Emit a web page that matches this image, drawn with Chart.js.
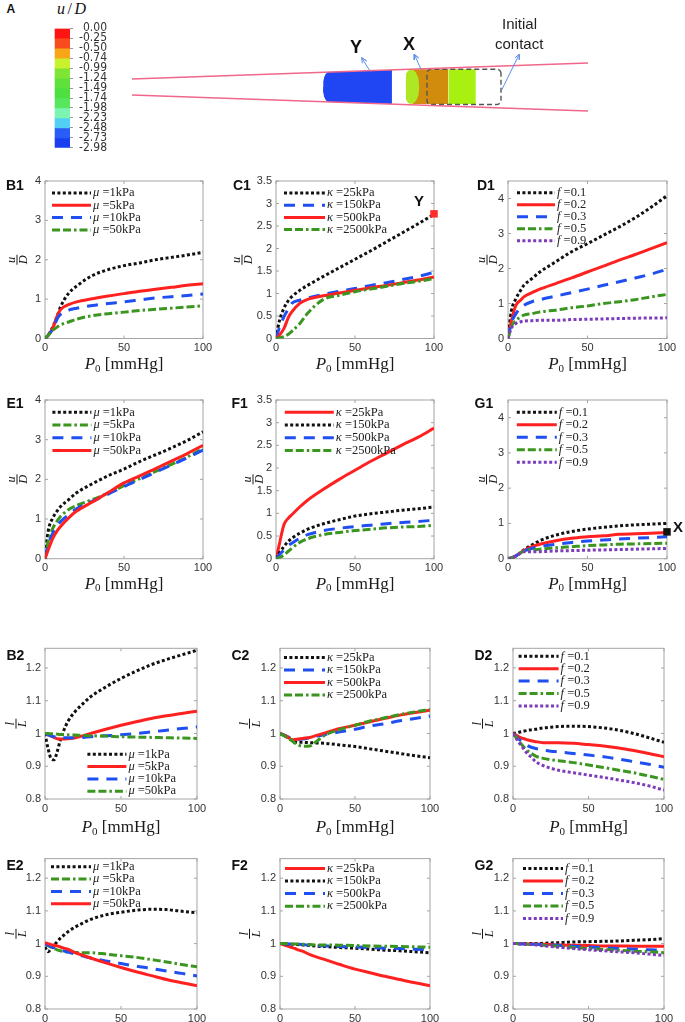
<!DOCTYPE html>
<html>
<head>
<meta charset="utf-8">
<title>u/D and l/L versus P0</title>
<script src="https://cdn.jsdelivr.net/npm/chart.js@4.4.1/dist/chart.umd.min.js"></script>
<style>
html,body{margin:0;padding:0;background:#fff;}
#page{position:relative;width:685px;height:1022px;overflow:hidden;background:#fff;}
#page canvas{position:absolute;}
.t{position:absolute;white-space:nowrap;line-height:1;color:#111;font-family:"Liberation Sans",Arial,sans-serif;z-index:5;}
</style>
</head>
<body>
<div id="page"></div>
<script>
// ================= DATA =================
// pressure grids
const P_A = [0,2,5,8,10,15,20,30,40,50,60,70,80,90,100];
const P_B = [0,2,4,6,8,10,12,15,20,25,30,40,50,60,70,80,90,100];

// legend texts
const MU = ['=1kPa','=5kPa','=10kPa','=50kPa'];
const KA = ['=25kPa','=150kPa','=500kPa','=2500kPa'];
const FF = ['=0.1','=0.2','=0.3','=0.5','=0.9'];

// B1  u/D  (mu)
const b1_mu1  = [0,0.08,0.30,0.60,0.82,1.15,1.33,1.60,1.75,1.85,1.92,2.00,2.06,2.12,2.19];
const b1_mu5  = [0,0.08,0.27,0.60,0.74,0.86,0.93,1.01,1.08,1.14,1.20,1.25,1.30,1.35,1.39];
const b1_mu10 = [0,0.08,0.25,0.52,0.62,0.72,0.77,0.84,0.89,0.93,0.98,1.03,1.06,1.09,1.13];
const b1_mu50 = [0,0.08,0.21,0.30,0.35,0.42,0.49,0.58,0.63,0.67,0.71,0.74,0.77,0.80,0.83];
// C1  u/D  (kappa)
const c1_k25   = [0,0.37,0.67,0.85,0.93,1.07,1.18,1.38,1.57,1.76,1.95,2.15,2.35,2.55,2.76];
const c1_k150  = [0,0.22,0.48,0.67,0.78,0.85,0.90,0.98,1.05,1.11,1.18,1.24,1.31,1.38,1.47];
const c1_k500  = [0,0.07,0.22,0.48,0.59,0.78,0.87,0.95,1.01,1.07,1.13,1.18,1.24,1.30,1.37];
const c1_k2500 = [0,0.01,0.04,0.10,0.16,0.33,0.56,0.87,0.96,1.04,1.10,1.16,1.22,1.27,1.33];
// D1  u/D  (f)
const d1_f01 = [0,0.76,1.14,1.38,1.52,1.71,1.90,2.19,2.48,2.71,2.95,3.19,3.45,3.75,4.08];
const d1_f02 = [0,0.48,0.95,1.10,1.19,1.31,1.41,1.57,1.73,1.90,2.07,2.24,2.40,2.57,2.74];
const d1_f03 = [0,0.43,0.71,0.88,0.95,1.05,1.11,1.21,1.31,1.41,1.52,1.62,1.73,1.84,1.98];
const d1_f05 = [0,0.33,0.52,0.62,0.67,0.71,0.76,0.81,0.88,0.93,1.00,1.05,1.11,1.19,1.26];
const d1_f09 = [0,0.29,0.43,0.48,0.50,0.51,0.52,0.52,0.54,0.55,0.56,0.57,0.58,0.585,0.59];
// E1
const e1_mu1  = [0,0.69,1.03,1.22,1.32,1.49,1.66,1.89,2.09,2.26,2.45,2.62,2.79,2.98,3.20];
const e1_mu5  = [0,0.43,0.77,0.97,1.07,1.24,1.34,1.49,1.65,1.84,2.02,2.20,2.38,2.56,2.78];
const e1_mu10 = [0,0.35,0.65,0.85,0.94,1.11,1.26,1.45,1.63,1.82,2.00,2.18,2.36,2.54,2.74];
const e1_mu50 = [0,0.22,0.52,0.72,0.82,1.03,1.20,1.43,1.67,1.91,2.09,2.27,2.46,2.65,2.86];
// F1
const f1_k25   = [0,0.30,0.75,0.90,0.97,1.14,1.29,1.53,1.75,1.95,2.15,2.33,2.51,2.68,2.88];
const f1_k150  = [0,0.12,0.27,0.39,0.45,0.56,0.65,0.77,0.86,0.94,0.99,1.03,1.07,1.10,1.14];
const f1_k500  = [0,0.08,0.19,0.29,0.34,0.45,0.53,0.62,0.67,0.71,0.74,0.77,0.80,0.82,0.85];
const f1_k2500 = [0,0.02,0.08,0.17,0.23,0.36,0.44,0.53,0.58,0.62,0.65,0.68,0.70,0.71,0.74];
// G1
const g1_f01 = [0,0.02,0.08,0.18,0.25,0.39,0.51,0.67,0.77,0.84,0.89,0.93,0.96,0.98,1.00];
const g1_f02 = [0,0.02,0.08,0.17,0.23,0.34,0.41,0.51,0.58,0.62,0.65,0.69,0.71,0.72,0.74];
const g1_f03 = [0,0.02,0.08,0.17,0.22,0.29,0.34,0.41,0.46,0.50,0.53,0.56,0.58,0.60,0.62];
const g1_f05 = [0,0.02,0.08,0.17,0.22,0.25,0.27,0.31,0.34,0.37,0.39,0.41,0.42,0.43,0.44];
const g1_f09 = [0,0.02,0.08,0.16,0.20,0.20,0.20,0.22,0.23,0.24,0.25,0.26,0.27,0.28,0.29];

// B2  l/L
const b2_mu1  = [1.000,0.954,0.924,0.920,0.944,0.978,1.005,1.036,1.068,1.091,1.112,1.142,1.168,1.190,1.210,1.226,1.240,1.254];
const b2_mu5  = [1.000,0.996,0.992,0.988,0.984,0.983,0.983,0.984,0.987,0.993,1.000,1.013,1.025,1.036,1.046,1.054,1.061,1.068];
const b2_mu10 = [1.000,0.996,0.992,0.990,0.988,0.987,0.987,0.987,0.987,0.988,0.990,0.993,0.996,1.000,1.005,1.010,1.015,1.020];
const b2_mu50 = [1.000,1.000,0.999,0.999,0.998,0.997,0.997,0.996,0.995,0.994,0.993,0.992,0.990,0.989,0.988,0.987,0.986,0.985];
// C2
const c2_k25   = [1.000,0.995,0.990,0.985,0.980,0.975,0.973,0.973,0.972,0.971,0.970,0.965,0.960,0.953,0.946,0.939,0.932,0.926];
const c2_k150  = [1.000,0.997,0.993,0.988,0.984,0.982,0.982,0.983,0.987,0.992,0.997,1.005,1.013,1.023,1.030,1.039,1.046,1.053];
const c2_k500  = [1.000,0.996,0.992,0.986,0.980,0.982,0.983,0.985,0.988,0.995,1.002,1.015,1.025,1.036,1.046,1.056,1.064,1.071];
const c2_k2500 = [1.000,0.995,0.990,0.984,0.978,0.970,0.965,0.961,0.962,0.978,0.995,1.012,1.025,1.038,1.048,1.058,1.066,1.073];
// D2
const d2_f01 = [1.000,1.002,1.004,1.006,1.008,1.010,1.011,1.013,1.017,1.019,1.021,1.022,1.021,1.017,1.010,1.000,0.987,0.973];
const d2_f02 = [1.000,0.995,0.990,0.986,0.983,0.980,0.978,0.975,0.972,0.972,0.972,0.970,0.966,0.962,0.956,0.948,0.939,0.929];
const d2_f03 = [1.000,0.990,0.982,0.975,0.968,0.962,0.958,0.954,0.949,0.946,0.944,0.939,0.934,0.929,0.922,0.914,0.906,0.897];
const d2_f05 = [1.000,0.988,0.976,0.965,0.955,0.946,0.940,0.931,0.924,0.920,0.917,0.911,0.904,0.896,0.888,0.880,0.870,0.860];
const d2_f09 = [1.000,0.986,0.972,0.960,0.947,0.936,0.928,0.914,0.902,0.894,0.888,0.880,0.873,0.866,0.858,0.850,0.840,0.827];
// E2
const e2_mu1  = [0.990,0.975,0.985,0.995,1.006,1.016,1.024,1.036,1.051,1.063,1.074,1.088,1.096,1.102,1.105,1.104,1.099,1.094];
const e2_mu5  = [1.000,0.994,0.989,0.985,0.981,0.978,0.976,0.974,0.973,0.972,0.972,0.968,0.963,0.958,0.951,0.944,0.936,0.929];
const e2_mu10 = [1.000,0.995,0.991,0.987,0.984,0.980,0.978,0.974,0.968,0.962,0.956,0.947,0.939,0.931,0.924,0.916,0.909,0.901];
const e2_mu50 = [1.003,1.000,0.997,0.995,0.993,0.990,0.987,0.983,0.972,0.964,0.956,0.941,0.927,0.914,0.902,0.890,0.880,0.871];
// F2
const f2_k25   = [1.000,0.997,0.994,0.991,0.988,0.985,0.981,0.977,0.966,0.958,0.951,0.936,0.922,0.911,0.900,0.890,0.880,0.871];
const f2_k150  = [1.000,1.000,0.999,0.999,0.998,0.998,0.997,0.996,0.994,0.992,0.991,0.988,0.986,0.983,0.980,0.978,0.975,0.972];
const f2_k500  = [1.000,1.000,0.999,0.999,0.999,0.998,0.998,0.997,0.995,0.994,0.993,0.991,0.990,0.988,0.986,0.985,0.983,0.982];
const f2_k2500 = [1.000,1.000,1.000,0.999,0.999,0.999,0.999,0.998,0.997,0.996,0.996,0.995,0.994,0.993,0.992,0.991,0.990,0.989];
// G2
const g2_f01 = [1.000,1.000,1.000,1.000,1.000,1.000,1.000,1.000,1.001,1.002,1.003,1.005,1.006,1.007,1.008,1.010,1.012,1.015];
const g2_f02 = [1.000,1.000,1.000,1.000,0.999,0.999,0.999,0.999,0.998,0.997,0.996,0.995,0.994,0.993,0.993,0.992,0.992,0.992];
const g2_f03 = [1.000,1.000,1.000,0.999,0.999,0.999,0.998,0.998,0.997,0.996,0.995,0.992,0.990,0.987,0.985,0.983,0.981,0.980];
const g2_f05 = [1.000,1.000,0.999,0.999,0.998,0.998,0.997,0.997,0.995,0.993,0.992,0.988,0.985,0.982,0.980,0.977,0.975,0.972];
const g2_f09 = [1.000,1.000,0.999,0.998,0.998,0.997,0.997,0.996,0.993,0.991,0.989,0.985,0.981,0.978,0.975,0.972,0.968,0.964];

// highlighted points Y (C1) and X (G1)
const markC1_x = [100], markC1_y = [2.77];
const markG1_x = [100], markG1_y = [0.76];

// colour bar (panel A)
const cbLabels = ['0.00','-0.25','-0.50','-0.74','-0.99','-1.24','-1.49','-1.74','-1.98','-2.23','-2.48','-2.73','-2.98'];
const cbColors = ['#ff1414','#f94c1e','#f8a517','#c9f22e','#7fe535','#60e03a','#4de040','#58e65e','#7cf5b2','#52d0f4','#2a5cf8','#1a3ef0'];

// schematic (axial position 0..100 along vessel, radial position)
const wallX = [0, 100];
const wallUpper = [1.754, 5.263];
const wallLower = [-1.754, -5.263];
const blockY_x   = [41.9, 41.95, 42.15, 42.5, 43.0, 57.0];
const blockY_top = [0, 1.2, 2.2, 2.9, 3.3, 3.73];
const blockY_bot = [0, -1.2, -2.2, -2.9, -3.3, -3.73];
const orange_x   = [61.5, 69.4];
const orange_top = [3.88, 3.88];
const orange_bot = [-3.73, -3.73];
const lime_x     = [69.4, 75.4];
const lime_top   = [3.88, 3.88];
const lime_bot   = [-3.73, -3.73];
const lens_x     = [60.0, 60.1, 60.5, 61.0, 61.6, 62.3, 62.8, 63.0];
const lens_top   = [0, 2.9, 3.55, 3.8, 3.85, 3.1, 2.0, 0];
const lens_bot   = [0, -2.8, -3.45, -3.65, -3.7, -3.0, -1.9, 0];
const contactBox = [64.69, -3.84, 80.92, 3.9, 0.9];   // x0, y0, x1, y1, corner radius
const arrowsA = [[52.04,3.73,50.37,6.43],[63.38,3.88,61.91,7.17],[81.07,-0.66,84.93,7.17]];

// ================= STYLE / LAYOUT =================
const STY = {
  dot:     {dash:[3,2.4], w:3},
  solid:   {dash:[], w:3},
  dash:    {dash:[11,8], w:3},
  dashdot: {dash:[8,3,8,3,2.5,3], w:3}
};
const COL = {black:'#111111', red:'#ff2020', blue:'#1f4ff0', green:'#3a961f', purple:'#7c3cbc'};
const ROW = [
  {t:181,   b:338.5, ct:168, ch:212, xt:26.5},
  {t:400,   b:558.7, ct:388, ch:212, xt:25.5},
  {t:648.3, b:799,   ct:636, ch:210, xt:29},
  {t:857.7, b:1009,  ct:848, ch:200, xt:27}
];
const COLS_TOP = [[45,203],[276,434],[508,667]];
const COLS_BOT = [[45,197],[280,430],[513,664]];
const CAN = [[0,228],[228,228],[460,225]];

const PANELS = [
 {id:'B1',row:0,col:0,y:[0,4,1],frac:['u','D'],fdx:-27.5,leg:{dx:7,dy:12,gap:12.3,len:39},x:P_A,
  s:[['μ',MU[0],b1_mu1,'dot','black'],['μ',MU[1],b1_mu5,'solid','red'],['μ',MU[2],b1_mu10,'dash','blue'],['μ',MU[3],b1_mu50,'dashdot','green']]},
 {id:'C1',row:0,col:1,y:[0,3.5,0.5],frac:['u','D'],fdx:-33.5,leg:{dx:8,dy:12,gap:12.2,len:41},x:P_A,
  s:[['κ',KA[0],c1_k25,'dot','black'],['κ',KA[1],c1_k150,'dash','blue'],['κ',KA[2],c1_k500,'solid','red'],['κ',KA[3],c1_k2500,'dashdot','green']],
  mark:{x:markC1_x,y:markC1_y,color:'#ff2a2a'}},
 {id:'D1',row:0,col:2,y:[0,4.5,1],frac:['u','D'],fdx:-20.5,leg:{dx:9,dy:11.7,gap:12,len:38},x:P_A,
  s:[['f',FF[0],d1_f01,'dot','black'],['f',FF[1],d1_f02,'solid','red'],['f',FF[2],d1_f03,'dash','blue'],['f',FF[3],d1_f05,'dashdot','green'],['f',FF[4],d1_f09,'dot','purple']]},
 {id:'E1',row:1,col:0,y:[0,4,1],frac:['u','D'],fdx:-27.5,leg:{dx:7.4,dy:12.3,gap:12.7,len:39},x:P_A,
  s:[['μ',MU[0],e1_mu1,'dot','black'],['μ',MU[1],e1_mu5,'dashdot','green'],['μ',MU[2],e1_mu10,'dash','blue'],['μ',MU[3],e1_mu50,'solid','red']]},
 {id:'F1',row:1,col:1,y:[0,3.5,0.5],frac:['u','D'],fdx:-22.5,leg:{dx:8.8,dy:12.3,gap:12.7,len:49},x:P_A,
  s:[['κ',KA[0],f1_k25,'solid','red'],['κ',KA[1],f1_k150,'dot','black'],['κ',KA[2],f1_k500,'dash','blue'],['κ',KA[3],f1_k2500,'dashdot','green']]},
 {id:'G1',row:1,col:2,y:[0,4.5,1],frac:['u','D'],fdx:-21,leg:{dx:8.8,dy:12.3,gap:12.5,len:40},x:P_A,
  s:[['f',FF[0],g1_f01,'dot','black'],['f',FF[1],g1_f02,'solid','red'],['f',FF[2],g1_f03,'dash','blue'],['f',FF[3],g1_f05,'dashdot','green'],['f',FF[4],g1_f09,'dot','purple']],
  mark:{x:markG1_x,y:markG1_y,color:'#111111'}},
 {id:'B2',row:2,col:0,y:[0.8,1.26,0.1],frac:['l','L'],fdx:-28.5,leg:{dx:42.4,dy:106,gap:12.3,len:39},x:P_B,
  s:[['μ',MU[0],b2_mu1,'dot','black'],['μ',MU[1],b2_mu5,'solid','red'],['μ',MU[2],b2_mu10,'dash','blue'],['μ',MU[3],b2_mu50,'dashdot','green']]},
 {id:'C2',row:2,col:1,y:[0.8,1.26,0.1],frac:['l','L'],fdx:-30,leg:{dx:4,dy:9.3,gap:12.5,len:41},x:P_B,
  s:[['κ',KA[0],c2_k25,'dot','black'],['κ',KA[1],c2_k150,'dash','blue'],['κ',KA[2],c2_k500,'solid','red'],['κ',KA[3],c2_k2500,'dashdot','green']]},
 {id:'D2',row:2,col:2,y:[0.8,1.26,0.1],frac:['l','L'],fdx:-30,leg:{dx:5.6,dy:8,gap:12.4,len:40},x:P_B,
  s:[['f',FF[0],d2_f01,'dot','black'],['f',FF[1],d2_f02,'solid','red'],['f',FF[2],d2_f03,'dash','blue'],['f',FF[3],d2_f05,'dashdot','green'],['f',FF[4],d2_f09,'dot','purple']]},
 {id:'E2',row:3,col:0,y:[0.8,1.26,0.1],frac:['l','L'],fdx:-28.5,leg:{dx:6,dy:8.2,gap:12.3,len:40},x:P_B,
  s:[['μ',MU[0],e2_mu1,'dot','black'],['μ',MU[1],e2_mu5,'dashdot','green'],['μ',MU[2],e2_mu10,'dash','blue'],['μ',MU[3],e2_mu50,'solid','red']]},
 {id:'F2',row:3,col:1,y:[0.8,1.26,0.1],frac:['l','L'],fdx:-30,leg:{dx:5,dy:9.8,gap:12.6,len:40},x:P_B,
  s:[['κ',KA[0],f2_k25,'solid','red'],['κ',KA[1],f2_k150,'dot','black'],['κ',KA[2],f2_k500,'dash','blue'],['κ',KA[3],f2_k2500,'dashdot','green']]},
 {id:'G2',row:3,col:2,y:[0.8,1.26,0.1],frac:['l','L'],fdx:-30,leg:{dx:10,dy:9.8,gap:12.5,len:40},x:P_B,
  s:[['f',FF[0],g2_f01,'dot','black'],['f',FF[1],g2_f02,'solid','red'],['f',FF[2],g2_f03,'dash','blue'],['f',FF[3],g2_f05,'dashdot','green'],['f',FF[4],g2_f09,'dot','purple']]}
];

// ================= RENDER =================
const page = document.getElementById('page');
const CFG = {};
const SERIF = '"Liberation Serif","DejaVu Serif",serif';
const SANS = '"Liberation Sans",Arial,sans-serif';

const matlabPlugin = {
  id: 'matlabLook',
  beforeDatasetsDraw(chart) {
    const c = CFG[chart.canvas.id]; if (!c) return;
    const ctx = chart.ctx, a = chart.chartArea, sx = chart.scales.x, sy = chart.scales.y;
    ctx.save();
    ctx.strokeStyle = '#a4a4a4'; ctx.lineWidth = 1;
    ctx.strokeRect(a.left, a.top, a.right - a.left, a.bottom - a.top);
    ctx.beginPath();
    const tl = 3;
    sx.ticks.forEach(t => { const p = sx.getPixelForValue(t.value);
      ctx.moveTo(p, a.bottom); ctx.lineTo(p, a.bottom - tl); ctx.moveTo(p, a.top); ctx.lineTo(p, a.top + tl); });
    sy.ticks.forEach(t => { const p = sy.getPixelForValue(t.value);
      ctx.moveTo(a.left, p); ctx.lineTo(a.left + tl, p); ctx.moveTo(a.right, p); ctx.lineTo(a.right - tl, p); });
    ctx.stroke();
    ctx.restore();
  },
  afterDraw(chart) {
    const c = CFG[chart.canvas.id]; if (!c) return;
    const ctx = chart.ctx, a = chart.chartArea;
    ctx.save();
    ctx.fillStyle = '#1a1a1a';
    // rotated fraction y-label
    ctx.save();
    ctx.translate(a.left + c.fdx, (a.top + a.bottom) / 2);
    ctx.rotate(-Math.PI / 2);
    ctx.textAlign = 'center'; ctx.textBaseline = 'alphabetic';
    ctx.font = 'italic 12.5px ' + SERIF;
    ctx.fillText(c.frac[0], 0, -2.4);
    ctx.fillRect(-5, -1, 10, 1);
    ctx.fillText(c.frac[1], 0, 9.6);
    ctx.restore();
    // x title  P0 [mmHg]
    const fP = 'italic 17px ' + SERIF, f0 = '11px ' + SERIF, fR = '17px ' + SERIF;
    ctx.textBaseline = 'middle'; ctx.textAlign = 'left';
    ctx.font = fP; const wP = ctx.measureText('P').width;
    ctx.font = f0; const w0 = ctx.measureText('0').width;
    ctx.font = fR; const wR = ctx.measureText(' [mmHg]').width;
    let x = (a.left + a.right) / 2 - (wP + w0 + wR) / 2;
    const ty = a.bottom + c.xt;
    ctx.font = fP; ctx.fillText('P', x, ty); x += wP;
    ctx.font = f0; ctx.fillText('0', x, ty + 4); x += w0;
    ctx.font = fR; ctx.fillText(' [mmHg]', x, ty);
    // legend (inside axes)
    const L = c.leg;
    let ly = a.top + L.dy;
    chart.data.datasets.forEach(ds => {
      if (!ds.sym) return;
      const x0 = a.left + L.dx;
      ctx.save();
      ctx.strokeStyle = ds.borderColor; ctx.lineWidth = ds.borderWidth; ctx.lineCap = 'butt';
      ctx.setLineDash(ds.borderDash || []);
      ctx.beginPath(); ctx.moveTo(x0, ly); ctx.lineTo(x0 + L.len, ly); ctx.stroke();
      ctx.restore();
      ctx.fillStyle = '#222'; ctx.textBaseline = 'middle'; ctx.textAlign = 'left';
      let tx = x0 + L.len + 2;
      ctx.font = 'italic 12.5px ' + SERIF; ctx.fillText(ds.sym, tx, ly); tx += ctx.measureText(ds.sym).width;
      ctx.font = '12.5px ' + SERIF; ctx.fillText(' ' + ds.rest, tx, ly);
      ly += L.gap;
    });
    ctx.restore();
  }
};
Chart.register(matlabPlugin);

function makeCanvas(id, left, top, w, h) {
  const cv = document.createElement('canvas');
  cv.id = id; cv.width = w; cv.height = h;
  cv.style.left = left + 'px'; cv.style.top = top + 'px';
  cv.style.width = w + 'px'; cv.style.height = h + 'px';
  page.appendChild(cv);
  return cv;
}
const fmt = v => String(Math.round(v * 100) / 100);
const tickFont = {family: SANS, size: 11};

PANELS.forEach(p => {
  const R = ROW[p.row];
  const [pl, pr] = (p.row < 2 ? COLS_TOP : COLS_BOT)[p.col];
  const [cl, cw] = CAN[p.col];
  const cv = makeCanvas('cv' + p.id, cl, R.ct, cw, R.ch);
  CFG[cv.id] = {frac: p.frac, fdx: p.fdx, leg: p.leg, xt: R.xt};
  const datasets = p.s.map((s, i) => ({
    sym: s[0], rest: s[1],
    data: p.x.map((x, k) => ({x: x, y: s[2][k]})),
    borderColor: COL[s[4]], backgroundColor: COL[s[4]],
    borderWidth: STY[s[3]].w, borderDash: STY[s[3]].dash, borderCapStyle: 'butt',
    pointRadius: 0, fill: false, cubicInterpolationMode: 'monotone', order: -i
  }));
  if (p.mark) {
    datasets.push({
      data: p.mark.x.map((x, k) => ({x: x, y: p.mark.y[k]})),
      showLine: false, pointStyle: 'rect', pointRadius: 5.3,
      pointBackgroundColor: p.mark.color, pointBorderWidth: 0, borderColor: p.mark.color,
      clip: false, order: -20
    });
  }
  new Chart(cv, {
    type: 'line',
    data: {datasets},
    options: {
      responsive: false, animation: false, events: [],
      layout: {padding: {left: 0, top: R.t - R.ct, right: (cl + cw) - pr, bottom: 0}},
      plugins: {legend: {display: false}, tooltip: {enabled: false}},
      scales: {
        x: {type: 'linear', min: 0, max: 100,
            ticks: {stepSize: 50, padding: 3, color: '#333', font: tickFont, maxRotation: 0, autoSkip: false, includeBounds: false, callback: fmt},
            grid: {display: false, drawTicks: false}, border: {display: false},
            afterFit: s => { s.height = (R.ct + R.ch) - R.b; }},
        y: {type: 'linear', min: p.y[0], max: p.y[1],
            ticks: {stepSize: p.y[2], padding: 4, color: '#333', font: tickFont, autoSkip: false, includeBounds: false, callback: fmt},
            grid: {display: false, drawTicks: false}, border: {display: false},
            afterFit: s => { s.width = pl - cl; }}
      }
    }
  });
});

// ---- panel A: colour bar ----
(function () {
  const cv = makeCanvas('cvBar', 40, 18, 67, 140);
  new Chart(cv, {
    type: 'bar',
    data: {labels: [''], datasets: cbColors.map((c, i) => ({
      data: [[i, i + 1]], backgroundColor: c, borderWidth: 0, categoryPercentage: 1, barPercentage: 1
    }))},
    options: {
      responsive: false, animation: false, events: [],
      layout: {padding: {left: 14.6, top: 10.3, bottom: 9.7, right: 0}},
      plugins: {legend: {display: false}, tooltip: {enabled: false}},
      scales: {
        x: {display: false, stacked: true},
        y: {position: 'right', min: 0, max: 12, reverse: true,
            ticks: {stepSize: 1, autoSkip: false, padding: 3, crossAlign: 'far', color: '#333',
                    font: {family: '"DejaVu Sans Condensed","DejaVu Sans",Verdana,sans-serif', size: 12},
                    callback: v => cbLabels[Math.round(v)]},
            grid: {drawOnChartArea: false, drawTicks: true, tickLength: 3, color: '#999'},
            border: {display: false},
            afterFit: s => { s.width = 37; }}
      }
    }
  });
})();

// ---- panel A: vessel schematic ----
(function () {
  const xy = (xs, ys) => xs.map((x, i) => ({x: x, y: ys[i]}));
  const ds = [];
  const clear = 'rgba(0,0,0,0)';
  function band(xs, top, bot, color) {
    ds.push({data: xy(xs, bot), borderWidth: 0, borderColor: clear, pointRadius: 0, fill: false});
    ds.push({data: xy(xs, top), borderWidth: 0, borderColor: clear, pointRadius: 0, fill: '-1', backgroundColor: color});
  }
  band(orange_x, orange_top, orange_bot, '#d18c0e');
  band(lime_x, lime_top, lime_bot, '#a8f010');
  band(lens_x, lens_top, lens_bot, '#aee824');
  band(blockY_x, blockY_top, blockY_bot, '#1f46f2');
  // dashed rounded rectangle ("initial contact")
  const [bx0, by0, bx1, by1, br] = contactBox;
  const pts = [];
  const arc = (cx, cy, a0) => { for (let k = 0; k <= 4; k++) { const t = (a0 + k * 22.5) * Math.PI / 180; pts.push({x: cx + br * Math.cos(t), y: cy + br * Math.sin(t)}); } };
  arc(bx1 - br, by1 - br, 0);
  arc(bx0 + br, by1 - br, 90);
  arc(bx0 + br, by0 + br, 180);
  arc(bx1 - br, by0 + br, 270);
  pts.push(pts[0]);
  ds.push({data: pts, borderColor: '#555', borderWidth: 1.4, borderDash: [5, 3], pointRadius: 0, fill: false});
  // vessel walls
  ds.push({data: xy(wallX, wallUpper), borderColor: '#f0668c', borderWidth: 1.7, pointRadius: 0, fill: false});
  ds.push({data: xy(wallX, wallLower), borderColor: '#f0668c', borderWidth: 1.7, pointRadius: 0, fill: false});
  // arrows
  arrowsA.forEach(a => {
    const [x0, y0, x1, y1] = a;
    const L = Math.hypot(x1 - x0, y1 - y0), ux = (x1 - x0) / L, uy = (y1 - y0) / L;
    const h = 1.25, ang = 25 * Math.PI / 180;
    const rot = s => ({x: x1 - h * (ux * Math.cos(s) - uy * Math.sin(s)), y: y1 - h * (ux * Math.sin(s) + uy * Math.cos(s))});
    ds.push({data: [{x: x0, y: y0}, {x: x1, y: y1}, rot(ang), {x: x1, y: y1}, rot(-ang)],
             borderColor: '#5b8ee8', borderWidth: 1, pointRadius: 0, fill: false});
  });
  ds.forEach((d, i) => { d.order = ds.length - i; d.tension = 0; });
  const cv = makeCanvas('cvSchem', 120, 0, 480, 140);
  new Chart(cv, {
    type: 'line',
    data: {datasets: ds},
    options: {
      responsive: false, animation: false, events: [],
      layout: {padding: 0},
      plugins: {legend: {display: false}, tooltip: {enabled: false}},
      scales: {
        x: {type: 'linear', display: false, min: -2.632, max: 102.632},
        y: {type: 'linear', display: false, min: -11.623, max: 19.079}
      }
    }
  });
})();

// ---- text labels ----
function label(text, left, top, size, weight, extra) {
  const d = document.createElement('div');
  d.className = 't';
  d.style.left = left + 'px'; d.style.top = top + 'px';
  d.style.fontSize = size + 'px'; d.style.fontWeight = weight || 'normal';
  if (extra) d.style.cssText += extra;
  d.textContent = text;
  page.appendChild(d);
  return d;
}
label('A', 6.5, 3.1, 12, 'bold');
[['B1',6,178.1],['C1',233,178.1],['D1',477,178.1],
 ['E1',6.5,396.1],['F1',231.5,396.1],['G1',474.5,396.1],
 ['B2',6.5,648.1],['C2',231.5,648.1],['D2',474.5,648.1],
 ['E2',6.5,858.1],['F2',231.5,858.1],['G2',474.5,858.1]].forEach(l => label(l[0], l[1], l[2], 14, 'bold'));
label('Y', 414, 193.3, 15, 'bold');
label('X', 673, 519.3, 15, 'bold');
label('Y', 350, 37.5, 18, 'bold');
label('X', 403, 35.3, 18, 'bold');
label('Initial', 502, 15.6, 15, 'normal', 'color:#222;');
label('contact', 495, 35.6, 15, 'normal', 'color:#222;');
const hdr = label('', 57, 0.6, 16, 'normal', 'font-family:"Liberation Serif",serif;letter-spacing:2.5px;');
hdr.innerHTML = '<i>u</i>/<i>D</i>';
</script>
</body>
</html>
